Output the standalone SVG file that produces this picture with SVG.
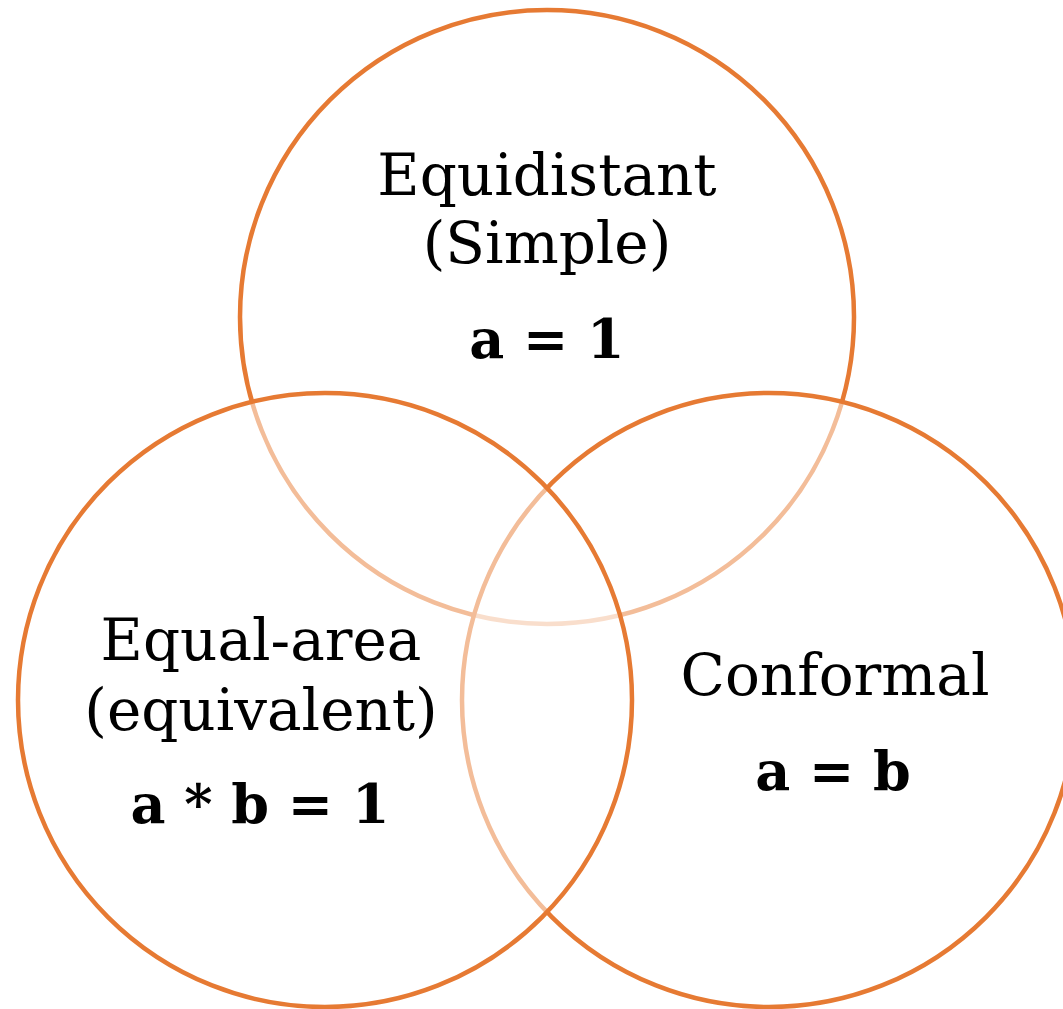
<svg xmlns="http://www.w3.org/2000/svg" width="1063" height="1009" viewBox="0 0 1063 1009">
<style>
.c{fill:#fff;fill-opacity:0.5;stroke:#E67A33;stroke-width:4.5}
.t{font-family:"DejaVu Serif","Liberation Serif",serif;font-size:58px;fill:#000;text-anchor:middle}
.b{font-family:"DejaVu Serif","Liberation Serif",serif;font-size:54px;font-weight:bold;fill:#000;text-anchor:middle}
</style>
<rect width="1063" height="1009" fill="#fff"/>
<g id="equidistant">
<circle class="c" cx="547" cy="317" r="307"/>
<text class="t" x="547" y="195">Equidistant</text>
<text class="t" x="547" y="263">(Simple)</text>
<text class="b" x="547" y="358">a = 1</text>
</g>
<g id="conformal">
<circle class="c" cx="769" cy="700" r="307"/>
</g>
<g id="equal-area">
<circle class="c" cx="325" cy="700" r="307"/>
</g>
<g id="labels">
<text class="t" x="261" y="660">Equal-area</text>
<text class="t" x="261" y="730">(equivalent)</text>
<text class="b" x="260" y="823">a * b = 1</text>
<text class="t" x="835" y="695">Conformal</text>
<text class="b" x="833" y="790">a = b</text>
</g>
</svg>
